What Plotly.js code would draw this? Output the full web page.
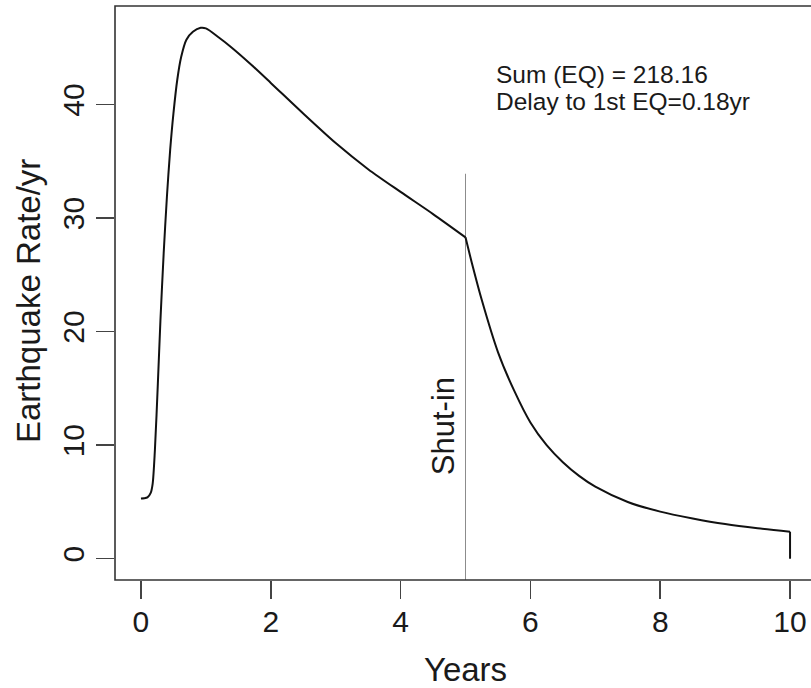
<!DOCTYPE html>
<html>
<head>
<meta charset="utf-8">
<script src="https://cdn.plot.ly/plotly-3.0.1.min.js"></script>
<style>
html, body { margin: 0; padding: 0; overflow: hidden; background: #fff; }
#chart { width: 816px; height: 688px; }
</style>
</head>
<body>
<div id="chart"></div>
<script>
// Years since injection start
var years = [0, 0.05, 0.10, 0.15, 0.18, 0.215, 0.26, 0.30, 0.35, 0.40, 0.45, 0.50, 0.56, 0.62, 0.70, 0.80, 0.92, 1.0, 1.2, 1.4, 1.7, 2.0, 2.5, 3.0, 3.5, 4.0, 4.5, 5.0, 5.1, 5.25, 5.5, 5.75, 6.0, 6.25, 6.5, 6.75, 7.0, 7.5, 8.0, 8.5, 9.0, 9.5, 10.0, 10.0];
// Earthquake rate per year
var rate = [5.3, 5.32, 5.4, 5.8, 6.6, 9.6, 15.4, 21.0, 26.9, 31.9, 36.0, 39.2, 42.2, 44.2, 45.7, 46.4, 46.75, 46.7, 45.9, 45.0, 43.5, 41.9, 39.2, 36.6, 34.3, 32.3, 30.35, 28.3, 26.0, 22.8, 18.2, 14.8, 12.0, 10.0, 8.5, 7.3, 6.35, 5.0, 4.15, 3.55, 3.05, 2.68, 2.38, 0];
var shutInYear = 5;
var shutInTop = 33.9;
var xTicks = [0, 2, 4, 6, 8, 10];
var yTicks = [0, 10, 20, 30, 40];
var sumText = "Sum (EQ) = 218.16";
var delayText = "Delay to 1st EQ=0.18yr";

var font = "Liberation Sans, Arial, Helvetica, sans-serif";
var ink = '#1a1a1a';
var xr = [-0.4, 10.4];
var yr = [-1.872, 48.672];

var k = years.indexOf(shutInYear);
var n = years.length;
var curveLine = {color: '#111', width: 2, shape: 'spline', smoothing: 0.8};

var traces = [
  {x: [shutInYear, shutInYear], y: [yr[0], shutInTop], mode: 'lines', line: {color: '#8c8c8c', width: 1}, hoverinfo: 'skip', showlegend: false},
  {x: years.slice(0, k + 1), y: rate.slice(0, k + 1), mode: 'lines', line: curveLine, showlegend: false},
  {x: years.slice(k, n - 1), y: rate.slice(k, n - 1), mode: 'lines', line: curveLine, showlegend: false},
  {x: years.slice(n - 2), y: rate.slice(n - 2), mode: 'lines', line: {color: '#111', width: 2}, showlegend: false}
];

var layout = {
  width: 816, height: 688,
  margin: {l: 115, r: 0, t: 6, b: 108},
  paper_bgcolor: '#fff', plot_bgcolor: '#fff',
  font: {family: font, color: ink},
  showlegend: false,
  xaxis: {
    range: xr, tickvals: xTicks, ticktext: xTicks.map(String),
    ticks: 'outside', ticklen: 18, tickwidth: 1.5, tickcolor: '#444',
    ticklabelstandoff: -3,
    showgrid: false, zeroline: false, showline: false,
    tickfont: {size: 30, family: font, color: ink},
    title: {text: 'Years', font: {size: 33, family: font, color: ink}, standoff: 20}
  },
  yaxis: {
    range: yr, tickvals: yTicks, ticktext: yTicks.map(String),
    ticks: 'outside', ticklen: 18, tickwidth: 1.5, tickcolor: '#444',
    tickangle: -90,
    showgrid: false, zeroline: false, showline: false,
    tickfont: {size: 30, family: font, color: ink}
  },
  shapes: [
    {type: 'rect', xref: 'paper', yref: 'paper', x0: 0, x1: 1, y0: 0, y1: 1, line: {color: '#333', width: 1.6}}
  ],
  annotations: [
    {x: 0, y: 0.5, xref: 'paper', yref: 'paper', text: 'Earthquake Rate/yr', showarrow: false, textangle: -90,
     xanchor: 'center', yanchor: 'middle', font: {size: 33, family: font, color: ink}},
    {x: 5.435, y: (559 - 73) / 11.4, xref: 'x', yref: 'y', text: sumText, showarrow: false, xanchor: 'left', yanchor: 'middle', font: {size: 24.5, family: font, color: ink}},
    {x: 5.435, y: (559 - 100) / 11.4, xref: 'x', yref: 'y', text: delayText, showarrow: false, xanchor: 'left', yanchor: 'middle', font: {size: 24.5, family: font, color: ink}},
    {x: shutInYear, y: 11.67, xref: 'x', yref: 'y', text: 'Shut-in', showarrow: false, textangle: -90, xanchor: 'right', yanchor: 'middle', xshift: -3, font: {size: 31, family: font, color: ink}}
  ]
};
// y title: place by pixel position from the left page edge
layout.annotations[0].x = (28 - 115) / (816 - 115);
layout.annotations[0].y = (688 - 108 - 301) / (688 - 108 - 6);

Plotly.newPlot('chart', traces, layout, {displayModeBar: false, staticPlot: true});
</script>
</body>
</html>
